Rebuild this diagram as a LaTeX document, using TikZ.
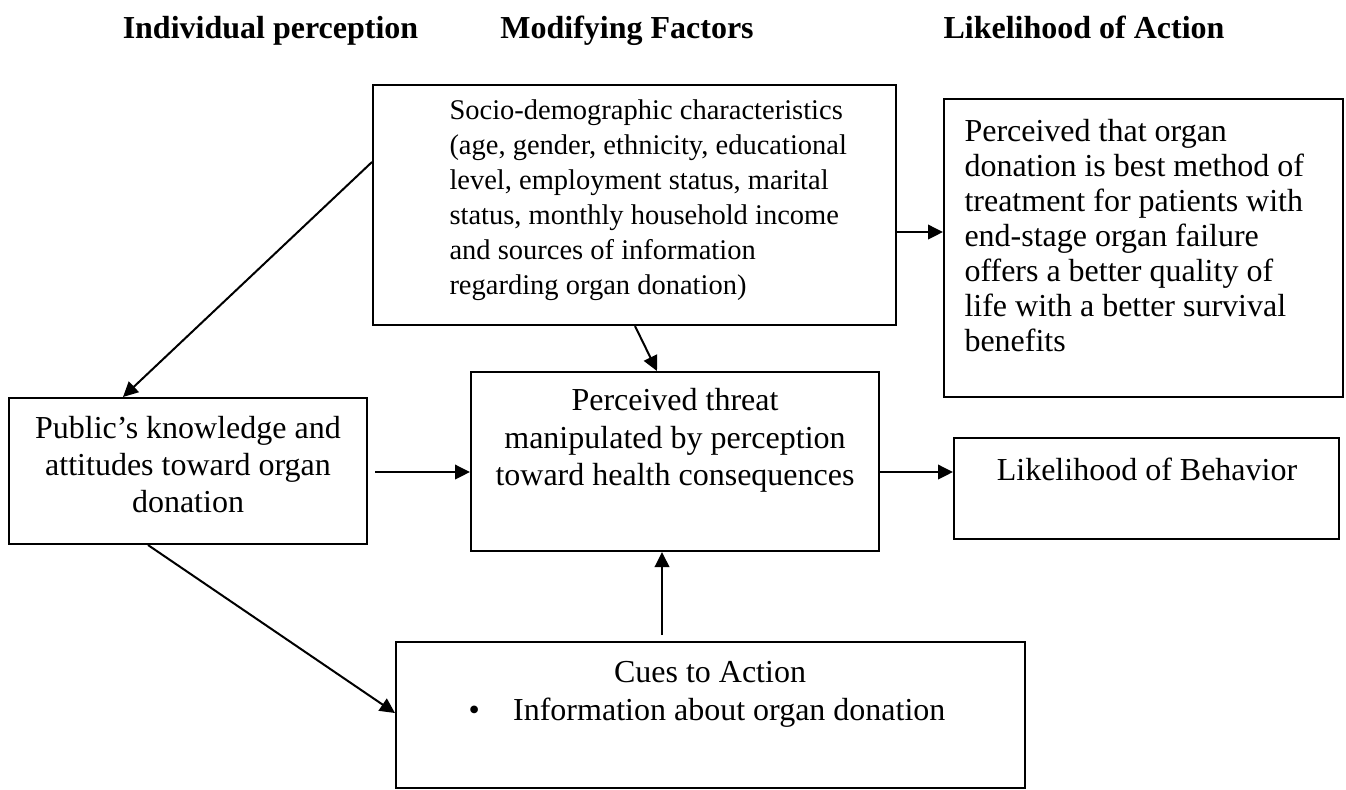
\documentclass[tikz,border=0pt]{standalone}
\usepackage{fontspec}
\setmainfont{Liberation Serif}
\usetikzlibrary{arrows.meta,calc}

\begin{document}
\begin{tikzpicture}[x=0.4pt,y=-0.4pt,
  box/.style={draw,line width=0.8pt,inner sep=0pt},
  head/.style={font=\fontsize{12.8}{15}\selectfont\bfseries,anchor=base,inner sep=0pt},
  txt/.style={font=\fontsize{12.8}{15}\selectfont,inner sep=0pt},
  arr/.style={-{Triangle[length=6pt,width=5.8pt]},line width=0.8pt}]
\useasboundingbox (0,0) rectangle (1346,789);

   \draw (270.5,38) node[head] (hindiv) {Individual perception};
   \draw (627,38) node[head] (hmodif) {Modifying Factors};
   \draw (1084,38) node[head] (hlike) {Likelihood of Action};

   \draw (634.5,205) node[box,minimum width=209.2pt,minimum height=96pt] (socio) {};
   \draw (1143.5,248) node[box,minimum width=159.6pt,minimum height=119.2pt] (perc) {};
   \draw (188,471) node[box,minimum width=143.2pt,minimum height=58.4pt] (public) {};
   \draw (675,461.5) node[box,minimum width=163.2pt,minimum height=71.6pt] (threat) {};
   \draw (1146.5,488.5) node[box,minimum width=154pt,minimum height=40.4pt] (behav) {};
   \draw (710.5,715) node[box,minimum width=251.6pt,minimum height=58.4pt] (cues) {};

   \draw (449,200.5) node[txt,anchor=west,align=left,font=\fontsize{11.4}{14}\selectfont] (sociotext)
      {Socio-demographic characteristics\\(age, gender, ethnicity, educational\\level, employment status, marital\\status, monthly household income\\and sources of information\\regarding organ donation)};
   \draw (964,236) node[txt,anchor=west,align=left,font=\fontsize{12.8}{14}\selectfont] (perctext)
      {Perceived that organ\\donation is best method of\\treatment for patients with\\end-stage organ failure\\offers a better quality of\\life with a better survival\\benefits};
   \draw (188,465) node[txt,align=center,font=\fontsize{12.8}{14.8}\selectfont] (publictext)
      {Public’s knowledge and\\attitudes toward organ\\donation};
   \draw (675,440.5) node[txt,align=center] (threattext)
      {Perceived threat\\manipulated by perception\\toward health consequences};
   \draw (1147,469) node[txt] (behavtext) {Likelihood of Behavior};
   \draw (710,672) node[txt] (cuestitle) {Cues to Action};
   \draw (468,713) node[txt,anchor=west] (cuesitem) {\textbullet\hspace{13.4pt}Information about organ donation};

     \path[arr] ($(socio.north west)+(0,78)$) edge ($(public.north)+(-65,0)$);
     \path[arr] ($(socio.south)+(0.5,0)$) edge ($(threat.north)+(-18,0)$);
     \path[arr] ($(socio.east)+(0,27)$) edge ($(perc.west)+(0,-16)$);
     \path[arr] ($(public.east)+(7,1)$) edge ($(threat.west)+(0,10.5)$);
     \path[arr] ($(threat.east)+(0,10.5)$) edge ($(behav.west)+(0,-16.5)$);
     \path[arr] ($(cues.north)+(-48.5,-6)$) edge ($(threat.south)+(-13,0)$);
     \path[arr] ($(public.south west)+(140,0)$) edge ($(cues.west)+(0,-2)$);

\end{tikzpicture}
\end{document}
